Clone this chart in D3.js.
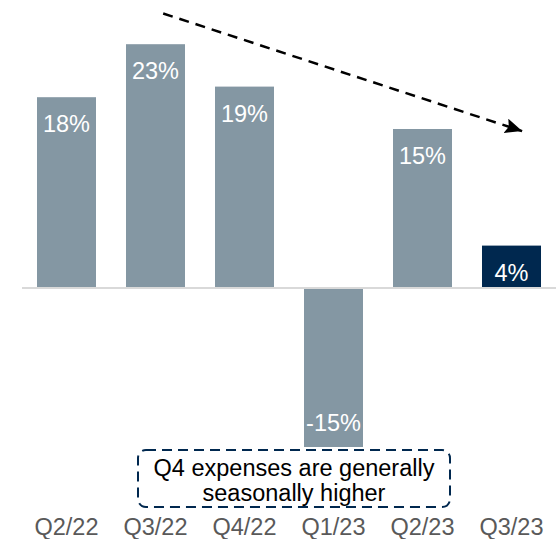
<!DOCTYPE html>
<html>
<head>
<meta charset="utf-8">
<script src="https://cdn.jsdelivr.net/npm/d3@7"></script>
<style>
  html, body { margin: 0; padding: 0; background: #fff; }
  svg { display: block; font-family: "Liberation Sans", Arial, sans-serif; }
</style>
</head>
<body>
<svg id="chart" width="559" height="539"></svg>
<script>
// Quarterly growth, percent
const quarters = ["Q2/22", "Q3/22", "Q4/22", "Q1/23", "Q2/23", "Q3/23"];
const growth = [18, 23, 19, -15, 15, 4];
const highlight = ["Q3/23"];
const noteLines = ["Q4 expenses are generally", "seasonally higher"];
// Trend arrow endpoints: [quarter, offset within band (0..1), value]
const trendFrom = ["Q3/22", 0.63, 25.9];
const trendTo = ["Q3/23", 0.68, 14.8];

const svg = d3.select("#chart");

const x = d3.scaleBand()
  .domain(quarters)
  .range([22, 556])
  .paddingInner(0.337)
  .paddingOuter(0.1685);

const y = d3.scaleLinear()
  .domain([-20, 25])
  .range([500, 23]);

const barColor = "#8497a3";
const darkColor = "#00284f";

// zero line
svg.append("line")
  .attr("x1", 22).attr("x2", 556)
  .attr("y1", y(0)).attr("y2", y(0))
  .attr("stroke", "#d9d9d9")
  .attr("stroke-width", 2);

const data = quarters.map((q, i) => ({ q, v: growth[i] }));

svg.selectAll("rect.bar")
  .data(data)
  .join("rect")
  .attr("class", "bar")
  .attr("x", d => x(d.q))
  .attr("width", x.bandwidth())
  .attr("y", d => d.v >= 0 ? y(d.v) : y(0) + 1)
  .attr("height", d => d.v >= 0 ? y(0) - 1 - y(d.v) : y(d.v) - y(0) - 1)
  .attr("fill", d => highlight.includes(d.q) ? darkColor : barColor);

svg.selectAll("text.val")
  .data(data)
  .join("text")
  .attr("class", "val")
  .attr("x", d => x(d.q) + x.bandwidth() / 2)
  .attr("y", d => d.v >= 0 ? y(d.v) + 35 : y(d.v) - 16)
  .attr("text-anchor", "middle")
  .attr("font-size", 23.5)
  .attr("fill", "#ffffff")
  .text(d => String(d.v) + "%");

// category labels
svg.selectAll("text.cat")
  .data(quarters)
  .join("text")
  .attr("class", "cat")
  .attr("x", d => x(d) + x.bandwidth() / 2)
  .attr("y", 535)
  .attr("text-anchor", "middle")
  .attr("font-size", 23.5)
  .attr("fill", "#595959")
  .text(d => d);

// trend arrow
const defs = svg.append("defs");
defs.append("marker")
  .attr("id", "arrowhead")
  .attr("markerUnits", "userSpaceOnUse")
  .attr("viewBox", "0 0 17 15")
  .attr("refX", 17).attr("refY", 7.5)
  .attr("markerWidth", 17).attr("markerHeight", 15)
  .attr("orient", "auto")
  .append("path")
  .attr("d", "M0,0 L17,7.5 L0,15 L3,7.5 Z")
  .attr("fill", "#000");

const ax1 = x(trendFrom[0]) + x.bandwidth() * trendFrom[1];
const ay1 = y(trendFrom[2]);
const ax2 = x(trendTo[0]) + x.bandwidth() * trendTo[1];
const ay2 = y(trendTo[2]);
svg.append("line")
  .attr("x1", ax1).attr("y1", ay1)
  .attr("x2", ax2).attr("y2", ay2)
  .attr("stroke", "#000")
  .attr("stroke-width", 2.5)
  .attr("stroke-dasharray", "10,7")
  .attr("marker-end", "url(#arrowhead)");

// note box
svg.append("rect")
  .attr("x", 138).attr("y", 450)
  .attr("width", 312).attr("height", 57)
  .attr("rx", 8).attr("ry", 8)
  .attr("fill", "none")
  .attr("stroke", darkColor)
  .attr("stroke-width", 2)
  .attr("stroke-dasharray", "10,6");

svg.selectAll("text.note")
  .data(noteLines)
  .join("text")
  .attr("class", "note")
  .attr("x", 294)
  .attr("y", (d, i) => 476 + i * 25)
  .attr("text-anchor", "middle")
  .attr("font-size", 23.5)
  .attr("fill", "#000")
  .text(d => d);
</script>
</body>
</html>
